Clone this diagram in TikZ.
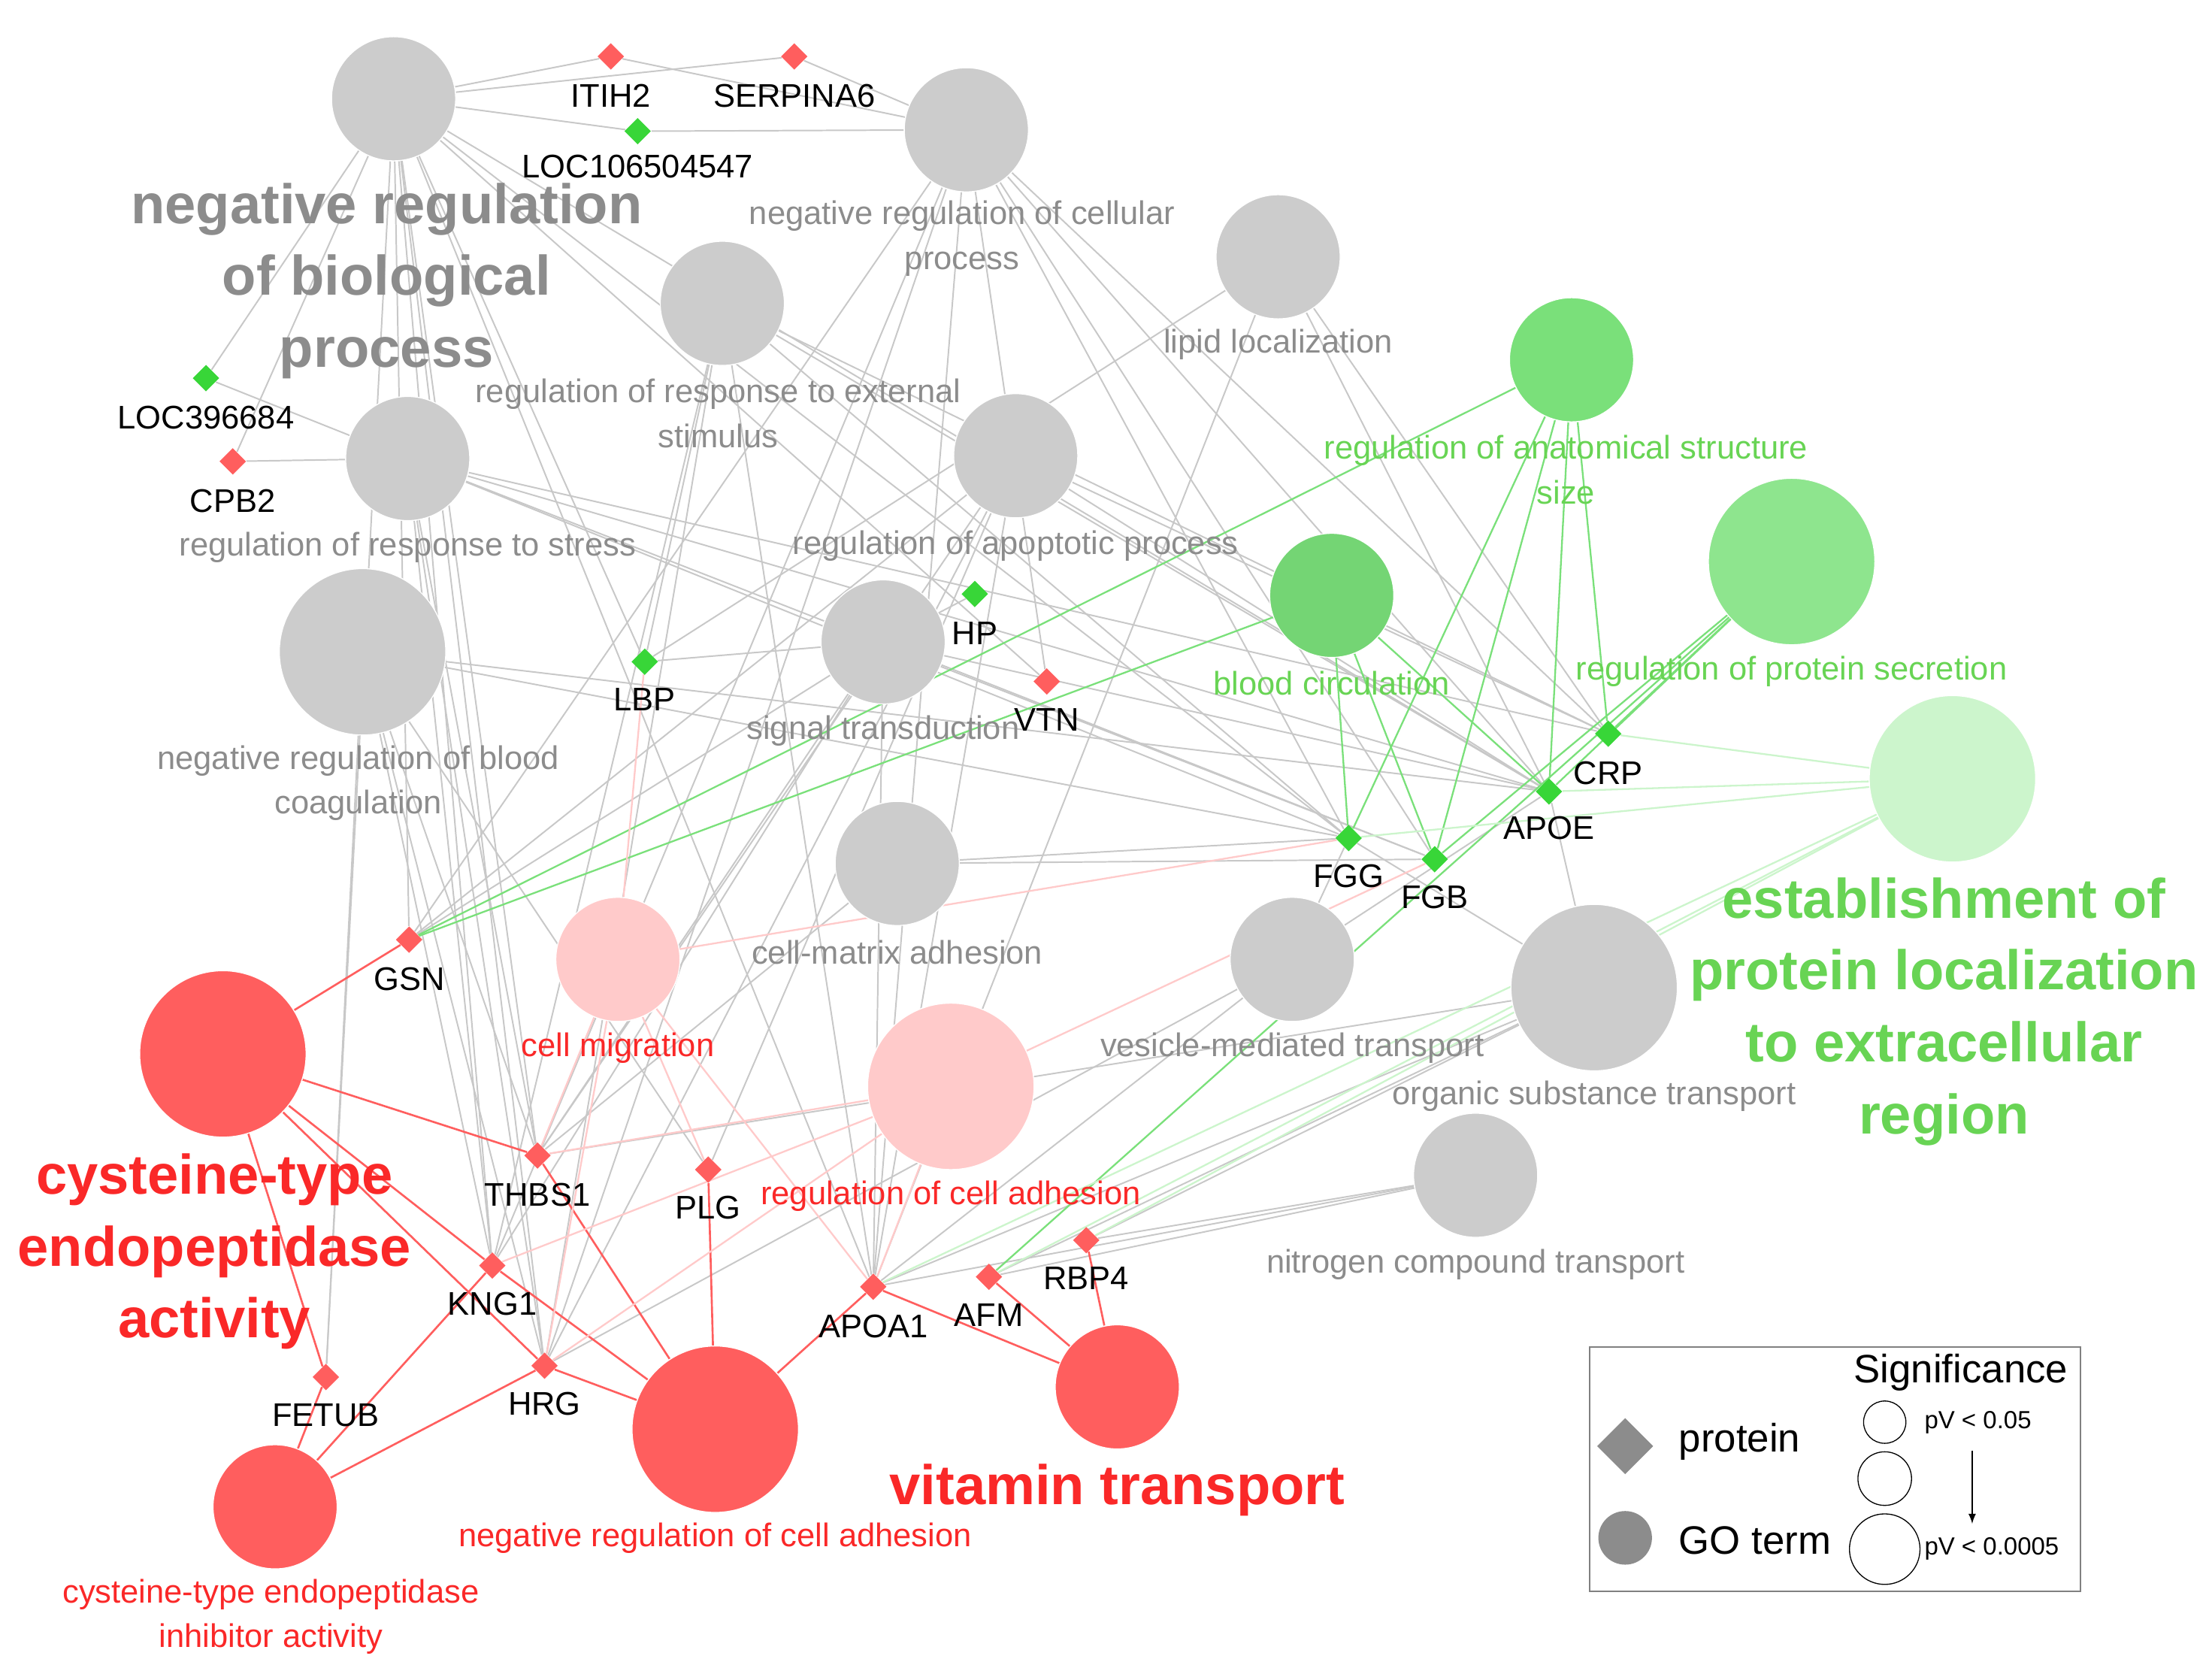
\documentclass[tikz,border=0pt]{standalone}
\usepackage{fontspec}
\setmainfont{Liberation Sans}
\usetikzlibrary{shapes.geometric,backgrounds}
\definecolor{goGray}{RGB}{204,204,204}
\definecolor{goGreen}{RGB}{122,224,122}
\definecolor{goLight}{RGB}{204,245,204}
\definecolor{goRed}{RGB}{255,94,94}
\definecolor{goPink}{RGB}{255,202,202}
\definecolor{protGreen}{RGB}{56,214,56}
\definecolor{txtGray}{RGB}{140,140,140}
\definecolor{txtGreen}{RGB}{104,212,84}
\definecolor{txtRed}{RGB}{250,40,40}
\definecolor{edgeGray}{RGB}{200,200,200}
\begin{document}
\begin{tikzpicture}[x=0.02cm,y=-0.02cm,
term/.style ={circle,draw=white,inner sep=0pt,minimum size=1.76cm},
bigterm/.style ={term,minimum size=2.36cm},
prot/.style ={diamond,inner sep=0pt,minimum size=0.38cm},
plab/.style ={font=\fontsize{13.2}{15}\selectfont,text=black},
glab/.style ={font=\fontsize{13.2}{18}\selectfont,text=txtGray,align=center},
huge/.style ={font=\fontsize{22.5}{29}\selectfont\bfseries,align=center},
e/.style ={edgeGray,line width=0.6pt},
eg/.style ={goGreen,line width=0.7pt},
er/.style ={goRed,line width=0.8pt},
ep/.style ={goPink,line width=0.7pt}]
\useasboundingbox (0,0) rectangle (1568,1184);
% GO terms
\node[term,fill=goGray] (nrb) at (279,70) {};
\node[term,fill=goGray] (nrc) at (685,92) {};
\node[term,fill=goGray] (lip) at (906,182) {};
\node[term,fill=goGray] (rre) at (512,215) {};
\node[term,fill=goGray] (rrs) at (289,325) {};
\node[term,fill=goGray] (rap) at (720,323) {};
\node[term,fill=goGreen] (ras) at (1114,255) {};
\node[term,fill=goGreen!95!black] (bc) at (944,422) {};
\node[bigterm,fill=goGreen!85] (rps) at (1270,398) {};
\node[bigterm,fill=goGray] (nrbc) at (257,462) {};
\node[term,fill=goGray] (st) at (626,455) {};
\node[bigterm,fill=goLight] (epl) at (1384,552) {};
\node[term,fill=goGray] (cma) at (636,612) {};
\node[term,fill=goPink] (cm) at (438,680) {};
\node[term,fill=goGray] (vmt) at (916,680) {};
\node[bigterm,fill=goGray] (ost) at (1130,700) {};
\node[bigterm,fill=goPink] (rca) at (674,770) {};
\node[term,fill=goGray] (nct) at (1046,833) {};
\node[bigterm,fill=goRed] (cea) at (158,747) {};
\node[bigterm,fill=goRed] (nrca) at (507,1013) {};
\node[term,fill=goRed] (vt) at (792,983) {};
\node[term,fill=goRed] (cei) at (195,1068) {};
% proteins
\node[prot,fill=goRed] (itih) at (433,40) {};
\node[prot,fill=goRed] (serp) at (563,40) {};
\node[prot,fill=protGreen] (loca) at (452,93) {};
\node[prot,fill=protGreen] (locb) at (146,268) {};
\node[prot,fill=goRed] (cpb) at (165,327) {};
\node[prot,fill=protGreen] (hp) at (691,421) {};
\node[prot,fill=protGreen] (lbp) at (457,469) {};
\node[prot,fill=goRed] (vtn) at (742,483) {};
\node[prot,fill=protGreen] (crp) at (1140,520) {};
\node[prot,fill=protGreen] (apoe) at (1098,561) {};
\node[prot,fill=protGreen] (fgg) at (956,594) {};
\node[prot,fill=protGreen] (fgb) at (1017,609) {};
\node[prot,fill=goRed] (gsn) at (290,666) {};
\node[prot,fill=goRed] (thbs) at (381,819) {};
\node[prot,fill=goRed] (plg) at (502,829) {};
\node[prot,fill=goRed] (kng) at (349,897) {};
\node[prot,fill=goRed] (apoa) at (619,912) {};
\node[prot,fill=goRed] (afm) at (701,905) {};
\node[prot,fill=goRed] (rbp) at (770,879) {};
\node[prot,fill=goRed] (hrg) at (386,968) {};
\node[prot,fill=goRed] (fetub) at (231,976) {};
% connectors
\begin{scope}[on background layer]
\foreach \a/\b in {nrb/itih,nrb/serp,nrb/loca,nrb/locb,nrb/cpb,nrb/lbp,nrb/gsn,nrb/thbs,nrb/kng,nrb/hrg,nrb/fetub,nrb/apoa,nrb/vtn,nrb/fgg,nrb/apoe,
nrc/itih,nrc/serp,nrc/loca,nrc/apoa,nrc/fgg,nrc/fgb,nrc/apoe,nrc/crp,nrc/hrg,nrc/kng,nrc/gsn,nrc/vtn,
lip/apoe,lip/apoa,lip/lbp,lip/crp,rre/lbp,rre/kng,rre/hrg,rre/apoe,rre/fgg,rre/crp,rre/apoa,
rrs/cpb,rrs/locb,rrs/kng,rrs/hrg,rrs/fgg,rrs/fgb,rrs/crp,rrs/apoe,rrs/thbs,
rap/apoe,rap/gsn,rap/hrg,rap/apoa,rap/crp,rap/thbs,rap/plg,
nrbc/fgg,nrbc/apoe,nrbc/hrg,nrbc/kng,nrbc/thbs,nrbc/plg,nrbc/fetub,
st/hp,st/lbp,st/gsn,st/apoe,st/apoa,st/fgb,st/thbs,st/kng,
cma/fgg,cma/thbs,cma/fgb,vmt/apoa,vmt/fgg,vmt/apoe,vmt/hrg,
ost/rbp,ost/apoa,ost/afm,ost/apoe,ost/fgg,ost/thbs,nct/rbp,nct/afm,nct/apoa}
  \draw[e] (\a) -- (\b);
\foreach \a/\b in {ras/apoe,ras/fgg,ras/fgb,ras/crp,ras/gsn,bc/fgg,bc/fgb,bc/apoe,bc/gsn,
rps/apoe,rps/fgb,rps/crp,rps/afm}
  \draw[eg] (\a) -- (\b);
\foreach \b in {apoe,crp,fgg,apoa,afm,rbp}
  \draw[goLight,line width=0.7pt] (epl) -- (\b);
\foreach \a/\b in {cea/gsn,cea/thbs,cea/kng,cea/hrg,cea/fetub,cei/kng,cei/hrg,cei/fetub,
nrca/thbs,nrca/kng,nrca/hrg,nrca/plg,nrca/apoa,vt/apoa,vt/afm,vt/rbp}
  \draw[er] (\a) -- (\b);
\foreach \a/\b in {cm/thbs,cm/plg,cm/hrg,cm/lbp,cm/apoa,cm/fgg,rca/thbs,rca/kng,rca/hrg,rca/apoa,rca/fgb}
  \draw[ep] (\a) -- (\b);
\end{scope}
% protein labels
\foreach \n/\t/\x/\y in {itih/ITIH2/433/68,serp/SERPINA6/563/68,loca/LOC106504547/452/118,
locb/LOC396684/146/296,cpb/CPB2/165/355,hp/HP/691/449,lbp/LBP/457/496,vtn/VTN/742/510,
crp/CRP/1140/548,apoe/APOE/1098/587,fgg/FGG/956/621,fgb/FGB/1017/636,gsn/GSN/290/694,
thbs/THBS1/381/847,plg/PLG/502/856,kng/KNG1/349/924,apoa/APOA1/619/940,afm/AFM/701/932,
rbp/RBP4/770/906,hrg/HRG/386/995,fetub/FETUB/231/1003}
  \node[plab] (\n l) at (\x,\y) {\t};
% term labels
\node[huge,text=txtGray] (nrbl) at (274,199) {negative regulation\\of biological\\process};
\node[glab] (nrcl) at (682,169) {negative regulation of cellular\\process};
\node[glab] (lipl) at (906,244) {lipid localization};
\node[glab] (rrel) at (509,293) {regulation of response to external\\stimulus};
\node[glab] (rrsl) at (289,388) {regulation of response to stress};
\node[glab] (rapl) at (720,387) {regulation of apoptotic process};
\node[glab,text=txtGreen] (rasl) at (1110,333) {regulation of anatomical structure\\size};
\node[glab,text=txtGreen] (bcl) at (944,484) {blood circulation};
\node[glab,text=txtGreen] (rpsl) at (1270,476) {regulation of protein secretion};
\node[glab] (nrbcl) at (254,555) {negative regulation of blood\\coagulation};
\node[glab] (stl) at (626,518) {signal transduction};
\node[huge,text=txtGreen] (epll) at (1378,717) {establishment of\\protein localization\\to extracellular\\region};
\node[glab] (cmal) at (636,675) {cell-matrix adhesion};
\node[glab,text=txtRed] (cml) at (438,743) {cell migration};
\node[glab] (vmtl) at (916,743) {vesicle-mediated transport};
\node[glab] (ostl) at (1130,777) {organic substance transport};
\node[glab,text=txtRed] (rcal) at (674,848) {regulation of cell adhesion};
\node[glab] (nctl) at (1046,896) {nitrogen compound transport};
\node[huge,text=txtRed] (ceal) at (152,887) {cysteine-type\\endopeptidase\\activity};
\node[glab,text=txtRed] (nrcal) at (507,1090) {negative regulation of cell adhesion};
\node[huge,text=txtRed] (vtl) at (792,1056) {vitamin transport};
\node[glab,text=txtRed] (ceil) at (192,1146) {cysteine-type endopeptidase\\inhibitor activity};
% legend
\draw[gray,line width=0.6pt] (1127,955) rectangle (1475,1128);
\node[prot,fill=txtGray,minimum size=0.8cm] (lgp) at (1152,1025) {};
\node[font=\fontsize{16}{18}\selectfont,anchor=west] (lgpt) at (1184,1022) {protein};
\node[circle,fill=txtGray,minimum size=0.76cm,inner sep=0pt] (lgc) at (1152,1090) {};
\node[font=\fontsize{16}{18}\selectfont,anchor=west] (lgct) at (1184,1092) {GO term};
\node[font=\fontsize{16}{18}\selectfont] (lgs) at (1390,973) {Significance};
\node[circle,draw,minimum size=0.6cm,inner sep=0pt] (lga) at (1336,1008) {};
\node[circle,draw,minimum size=0.76cm,inner sep=0pt] (lgb) at (1336,1048) {};
\node[circle,draw,minimum size=1.0cm,inner sep=0pt] (lgd) at (1336,1098) {};
\node[font=\fontsize{10}{12}\selectfont,anchor=west] (lgat) at (1358,1008) {pV < 0.05};
\node[font=\fontsize{10}{12}\selectfont,anchor=west] (lgdt) at (1358,1098) {pV < 0.0005};
\coordinate (arA) at (1398,1028);
\coordinate (arB) at (1398,1080);
\draw[-latex] (arA) -- (arB);
\end{tikzpicture}
\end{document}
